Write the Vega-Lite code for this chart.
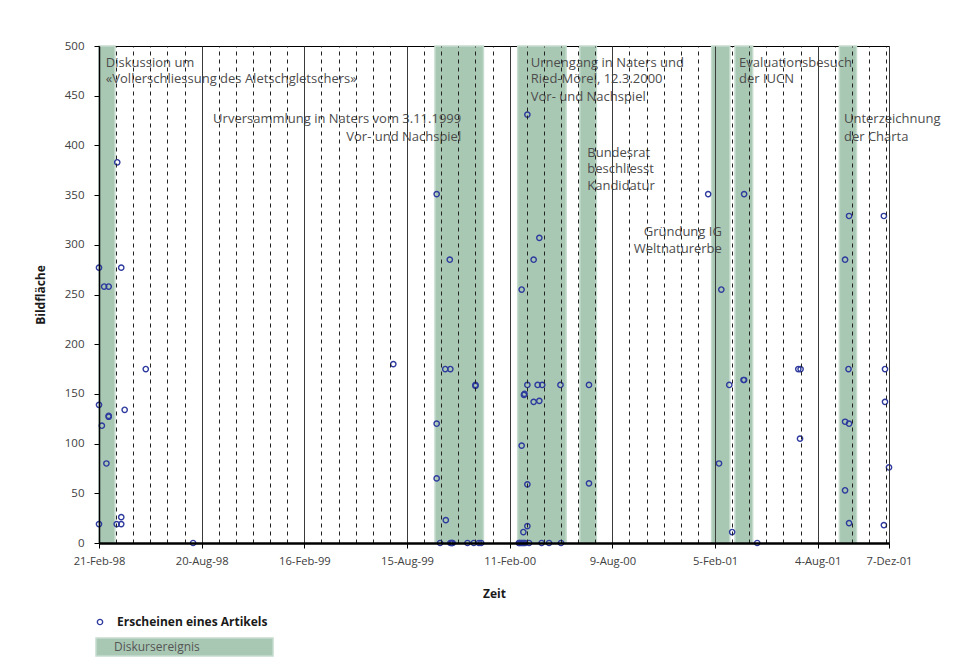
{
  "$schema": "https://vega.github.io/schema/vega-lite/v6.json",
  "width": 790,
  "height": 497,
  "autosize": {"type": "none"},
  "padding": {"left": 99, "top": 46, "right": 69, "bottom": 114},
  "background": "white",
  "config": {
    "view": {"stroke": "black", "strokeWidth": 1},
    "font": "Open Sans",
    "axis": {"labelFont": "Open Sans", "titleFont": "Open Sans"},
    "legend": {"labelFont": "Open Sans"}
  },
  "datasets": {
    "bands": [
      {"start": "1998-02-21", "end": "1998-03-21", "kind": "Diskursereignis"},
      {"start": "1999-10-03", "end": "1999-12-27", "kind": "Diskursereignis"},
      {"start": "2000-02-25", "end": "2000-05-20", "kind": "Diskursereignis"},
      {"start": "2000-06-13", "end": "2000-07-12", "kind": "Diskursereignis"},
      {"start": "2001-01-30", "end": "2001-03-03", "kind": "Diskursereignis"},
      {"start": "2001-03-12", "end": "2001-04-12", "kind": "Diskursereignis"},
      {"start": "2001-09-11", "end": "2001-10-11", "kind": "Diskursereignis"}
    ],
    "notes": [
      {"d": "1998-03-05", "v": 482.6, "t": "Diskussion um", "a": "left"},
      {"d": "1998-03-05", "v": 466.5, "t": "«Vollerschliessung des Aletschgletschers»", "a": "left"},
      {"d": "1999-11-18", "v": 426.3, "t": "Urversammlung in Naters vom 3.11.1999", "a": "right"},
      {"d": "1999-11-18", "v": 408.8, "t": "Vor- und  Nachspiel", "a": "right"},
      {"d": "2000-03-19", "v": 482.6, "t": "Urnengang in Naters und", "a": "left"},
      {"d": "2000-03-19", "v": 466.5, "t": "Ried-Mörel, 12.3.2000", "a": "left"},
      {"d": "2000-03-19", "v": 449.0, "t": "Vor- und  Nachspiel", "a": "left"},
      {"d": "2000-06-26", "v": 392.7, "t": "Bundesrat", "a": "left"},
      {"d": "2000-06-26", "v": 375.9, "t": "beschliesst", "a": "left"},
      {"d": "2000-06-26", "v": 359.2, "t": "Kandidatur", "a": "left"},
      {"d": "2001-02-17", "v": 312.6, "t": "Gründung IG", "a": "right"},
      {"d": "2001-02-17", "v": 295.5, "t": "Weltnaturerbe", "a": "right"},
      {"d": "2001-03-19", "v": 482.6, "t": "Evaluationsbesuch", "a": "left"},
      {"d": "2001-03-19", "v": 466.5, "t": "der IUCN", "a": "left"},
      {"d": "2001-09-19", "v": 426.3, "t": "Unterzeichnung", "a": "left"},
      {"d": "2001-09-19", "v": 408.8, "t": "der Charta", "a": "left"}
    ],
    "articles": [
      {"d": "1998-02-21", "v": 277},
      {"d": "1998-02-21", "v": 139},
      {"d": "1998-02-21", "v": 19},
      {"d": "1998-02-26", "v": 118},
      {"d": "1998-03-02", "v": 258},
      {"d": "1998-03-10", "v": 258},
      {"d": "1998-03-06", "v": 80},
      {"d": "1998-03-10", "v": 127},
      {"d": "1998-03-10", "v": 128},
      {"d": "1998-03-25", "v": 383},
      {"d": "1998-03-24", "v": 19},
      {"d": "1998-04-01", "v": 277},
      {"d": "1998-04-01", "v": 26},
      {"d": "1998-04-01", "v": 19},
      {"d": "1998-04-07", "v": 134},
      {"d": "1998-05-14", "v": 175},
      {"d": "1998-08-05", "v": 0},
      {"d": "1999-07-22", "v": 180},
      {"d": "1999-10-06", "v": 351},
      {"d": "1999-10-06", "v": 120},
      {"d": "1999-10-06", "v": 65},
      {"d": "1999-10-29", "v": 285},
      {"d": "1999-10-21", "v": 175},
      {"d": "1999-10-30", "v": 175},
      {"d": "1999-10-22", "v": 23},
      {"d": "1999-12-13", "v": 158},
      {"d": "1999-12-13", "v": 159},
      {"d": "1999-10-12", "v": 0},
      {"d": "1999-10-30", "v": 0},
      {"d": "1999-11-01", "v": 0},
      {"d": "1999-11-02", "v": 0},
      {"d": "1999-11-03", "v": 0},
      {"d": "1999-11-29", "v": 0},
      {"d": "1999-12-10", "v": 0},
      {"d": "1999-12-19", "v": 0},
      {"d": "1999-12-23", "v": 0},
      {"d": "2000-03-13", "v": 431},
      {"d": "2000-04-03", "v": 307},
      {"d": "2000-03-24", "v": 285},
      {"d": "2000-03-03", "v": 255},
      {"d": "2000-03-13", "v": 159},
      {"d": "2000-03-31", "v": 159},
      {"d": "2000-04-08", "v": 159},
      {"d": "2000-05-10", "v": 159},
      {"d": "2000-03-07", "v": 149},
      {"d": "2000-03-08", "v": 150},
      {"d": "2000-03-24", "v": 142},
      {"d": "2000-04-03", "v": 143},
      {"d": "2000-03-03", "v": 98},
      {"d": "2000-03-13", "v": 59},
      {"d": "2000-03-13", "v": 17},
      {"d": "2000-03-06", "v": 11},
      {"d": "2000-02-27", "v": 0},
      {"d": "2000-02-28", "v": 0},
      {"d": "2000-03-01", "v": 0},
      {"d": "2000-03-03", "v": 0},
      {"d": "2000-03-05", "v": 0},
      {"d": "2000-03-07", "v": 0},
      {"d": "2000-03-09", "v": 0},
      {"d": "2000-03-16", "v": 0},
      {"d": "2000-04-07", "v": 0},
      {"d": "2000-04-20", "v": 0},
      {"d": "2000-05-11", "v": 0},
      {"d": "2000-06-29", "v": 159},
      {"d": "2000-06-29", "v": 60},
      {"d": "2001-01-24", "v": 351},
      {"d": "2001-02-16", "v": 255},
      {"d": "2001-02-12", "v": 80},
      {"d": "2001-03-02", "v": 159},
      {"d": "2001-03-07", "v": 11},
      {"d": "2001-03-27", "v": 164},
      {"d": "2001-03-28", "v": 164},
      {"d": "2001-03-28", "v": 351},
      {"d": "2001-04-20", "v": 0},
      {"d": "2001-07-01", "v": 175},
      {"d": "2001-07-05", "v": 175},
      {"d": "2001-07-04", "v": 105},
      {"d": "2001-09-21", "v": 285},
      {"d": "2001-09-21", "v": 122},
      {"d": "2001-09-21", "v": 53},
      {"d": "2001-09-28", "v": 329},
      {"d": "2001-09-27", "v": 175},
      {"d": "2001-09-28", "v": 120},
      {"d": "2001-09-28", "v": 20},
      {"d": "2001-11-28", "v": 329},
      {"d": "2001-11-30", "v": 175},
      {"d": "2001-11-30", "v": 142},
      {"d": "2001-11-28", "v": 18},
      {"d": "2001-12-07", "v": 76}
    ]
  },
  "layer": [
    {
      "data": {"name": "bands"},
      "mark": {"type": "rect", "stroke": "#c6dccf", "strokeWidth": 1.5},
      "encoding": {
        "x": {
          "field": "start", "type": "temporal",
          "scale": {"type": "utc", "domain": [{"year": 1998, "month": 2, "date": 21, "utc": true}, {"year": 2001, "month": 12, "date": 7, "utc": true}], "nice": false},
          "axis": {
            "orient": "bottom",
            "values": [
              {"year": 1998, "month": 2, "date": 21, "utc": true},
              {"year": 1998, "month": 8, "date": 20, "utc": true},
              {"year": 1999, "month": 2, "date": 16, "utc": true},
              {"year": 1999, "month": 8, "date": 15, "utc": true},
              {"year": 2000, "month": 2, "date": 11, "utc": true},
              {"year": 2000, "month": 8, "date": 9, "utc": true},
              {"year": 2001, "month": 2, "date": 5, "utc": true},
              {"year": 2001, "month": 8, "date": 4, "utc": true},
              {"year": 2001, "month": 12, "date": 7, "utc": true}
            ],
            "format": "%-d-%b-%y",
            "labelExpr": "datum.label == '7-Dec-01' ? '7-Dez-01' : datum.label",
            "grid": true, "gridColor": "#3a3a3a", "gridWidth": 1,
            "domainColor": "black", "domainWidth": 2.5,
            "tickColor": "black", "tickSize": 5, "tickWidth": 1,
            "labelFontSize": 11.2, "labelColor": "#404040", "labelPadding": 7,
            "labelFlush": false, "labelOverlap": false,
            "title": "Zeit", "titleFontSize": 12, "titleFontWeight": "bold", "titleColor": "#1a1a1a",
            "titleY": 50, "titleBaseline": "middle",
            "zindex": 1
          }
        },
        "x2": {"field": "end"},
        "fill": {
          "field": "kind", "type": "nominal",
          "scale": {"range": ["#a9c8b4"]},
          "legend": {
            "orient": "none", "legendX": -4, "legendY": 591, "title": null, "padding": 0,
            "symbolType": "M-1,-1H18.67V1H-1Z", "symbolSize": 324,
            "symbolStrokeColor": "#c6dccf", "symbolStrokeWidth": 1.5,
            "labelFontSize": 12, "labelColor": "#555555", "labelOffset": -1
          }
        }
      }
    },
    {
      "data": {"name": "notes"},
      "transform": [{"filter": "datum.a == 'left'"}],
      "mark": {"type": "text", "align": "left", "baseline": "middle", "fontSize": 13, "color": "#4d4d4d", "font": "Open Sans"},
      "encoding": {
        "x": {"field": "d", "type": "temporal", "axis": null,
              "scale": {"type": "utc", "domain": [{"year": 1998, "month": 2, "date": 21, "utc": true}, {"year": 2001, "month": 12, "date": 7, "utc": true}], "nice": false}},
        "y": {"field": "v", "type": "quantitative", "axis": null, "scale": {"domain": [0, 500], "nice": false}},
        "text": {"field": "t"}
      }
    },
    {
      "data": {"name": "notes"},
      "transform": [{"filter": "datum.a == 'right'"}],
      "mark": {"type": "text", "align": "right", "baseline": "middle", "fontSize": 13, "color": "#4d4d4d", "font": "Open Sans"},
      "encoding": {
        "x": {"field": "d", "type": "temporal", "axis": null,
              "scale": {"type": "utc", "domain": [{"year": 1998, "month": 2, "date": 21, "utc": true}, {"year": 2001, "month": 12, "date": 7, "utc": true}], "nice": false}},
        "y": {"field": "v", "type": "quantitative", "axis": null, "scale": {"domain": [0, 500], "nice": false}},
        "text": {"field": "t"}
      }
    },
    {
      "data": {"name": "articles"},
      "mark": {"type": "point", "shape": "circle", "filled": false, "size": 28, "strokeWidth": 1.4, "opacity": 1},
      "encoding": {
        "x": {
          "field": "d", "type": "temporal",
          "scale": {"type": "utc", "domain": [{"year": 1998, "month": 2, "date": 21, "utc": true}, {"year": 2001, "month": 12, "date": 7, "utc": true}], "nice": false},
          "axis": {
            "orient": "top",
            "values": [
              {"year": 1998, "month": 3, "date": 23, "utc": true},
              {"year": 1998, "month": 4, "date": 22, "utc": true},
              {"year": 1998, "month": 5, "date": 22, "utc": true},
              {"year": 1998, "month": 6, "date": 21, "utc": true},
              {"year": 1998, "month": 7, "date": 21, "utc": true},
              {"year": 1998, "month": 9, "date": 19, "utc": true},
              {"year": 1998, "month": 10, "date": 19, "utc": true},
              {"year": 1998, "month": 11, "date": 18, "utc": true},
              {"year": 1998, "month": 12, "date": 18, "utc": true},
              {"year": 1999, "month": 1, "date": 17, "utc": true},
              {"year": 1999, "month": 3, "date": 18, "utc": true},
              {"year": 1999, "month": 4, "date": 17, "utc": true},
              {"year": 1999, "month": 5, "date": 17, "utc": true},
              {"year": 1999, "month": 6, "date": 16, "utc": true},
              {"year": 1999, "month": 7, "date": 16, "utc": true},
              {"year": 1999, "month": 9, "date": 14, "utc": true},
              {"year": 1999, "month": 10, "date": 14, "utc": true},
              {"year": 1999, "month": 11, "date": 13, "utc": true},
              {"year": 1999, "month": 12, "date": 13, "utc": true},
              {"year": 2000, "month": 1, "date": 12, "utc": true},
              {"year": 2000, "month": 3, "date": 12, "utc": true},
              {"year": 2000, "month": 4, "date": 11, "utc": true},
              {"year": 2000, "month": 5, "date": 11, "utc": true},
              {"year": 2000, "month": 6, "date": 10, "utc": true},
              {"year": 2000, "month": 7, "date": 10, "utc": true},
              {"year": 2000, "month": 9, "date": 8, "utc": true},
              {"year": 2000, "month": 10, "date": 8, "utc": true},
              {"year": 2000, "month": 11, "date": 7, "utc": true},
              {"year": 2000, "month": 12, "date": 7, "utc": true},
              {"year": 2001, "month": 1, "date": 6, "utc": true},
              {"year": 2001, "month": 3, "date": 7, "utc": true},
              {"year": 2001, "month": 4, "date": 6, "utc": true},
              {"year": 2001, "month": 5, "date": 6, "utc": true},
              {"year": 2001, "month": 6, "date": 5, "utc": true},
              {"year": 2001, "month": 7, "date": 5, "utc": true},
              {"year": 2001, "month": 9, "date": 3, "utc": true},
              {"year": 2001, "month": 10, "date": 3, "utc": true},
              {"year": 2001, "month": 11, "date": 2, "utc": true},
              {"year": 2001, "month": 12, "date": 2, "utc": true}
            ],
            "grid": true, "gridColor": "#222222", "gridWidth": 1, "gridDash": [4, 4],
            "labels": false, "ticks": false, "domain": false, "title": null,
            "zindex": 1
          }
        },
        "y": {
          "field": "v", "type": "quantitative",
          "scale": {"domain": [0, 500], "nice": false},
          "axis": {
            "orient": "left",
            "values": [0, 50, 100, 150, 200, 250, 300, 350, 400, 450, 500],
            "grid": false,
            "domainColor": "black", "domainWidth": 1.5,
            "tickColor": "black", "tickSize": 5,
            "labelFontSize": 11.5, "labelColor": "#404040", "labelPadding": 10,
            "title": "Bildfläche", "titleFontSize": 12, "titleFontWeight": "bold", "titleColor": "#1a1a1a",
            "titleX": -59, "titleY": 248.5, "titleAngle": -90, "titleAlign": "center", "titleBaseline": "middle",
            "zindex": 1
          }
        },
        "color": {
          "datum": "Erscheinen eines Artikels", "type": "nominal",
          "scale": {"range": ["#2e3a9e"]},
          "legend": {
            "orient": "none", "legendX": -5, "legendY": 570, "title": null, "padding": 0,
            "symbolType": "circle", "symbolSize": 28, "symbolStrokeWidth": 1.4,
            "labelFontSize": 12, "labelFontWeight": "bold", "labelColor": "#1a1a1a", "labelOffset": 11
          }
        }
      }
    }
  ],
  "resolve": {"axis": {"x": "independent", "y": "independent"}}
}
